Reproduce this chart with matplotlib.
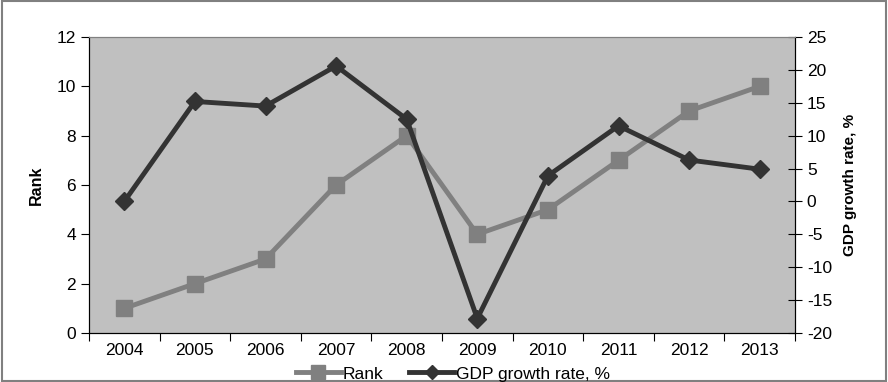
import matplotlib.pyplot as plt
from matplotlib.lines import Line2D
from matplotlib.patches import Rectangle

plt.rcParams['font.family'] = ['Liberation Sans', 'DejaVu Sans']
plt.rcParams['axes.unicode_minus'] = False

years = ['2004', '2005', '2006', '2007', '2008', '2009', '2010', '2011', '2012', '2013']
rank = [1, 2, 3, 6, 8, 4, 5, 7, 9, 10]
gdp = [0.0, 15.2, 14.5, 20.6, 12.5, -17.8, 3.9, 11.5, 6.3, 4.9]

x = list(range(len(years)))

fig = plt.figure(figsize=(8.88, 3.82), dpi=100)
ax = fig.add_axes([89 / 888, 1 - 333 / 382, (795 - 89) / 888, (333 - 37) / 382])
ax.set_facecolor('#c0c0c0')

ax.plot(x, rank, color='#808080', lw=3.5, marker='s', ms=12, label='Rank', zorder=3)
ax.set_xlim(-0.5, 9.5)
ax.set_ylim(0, 12)
ax.set_yticks(range(0, 13, 2))
ax.set_xticks([i + 0.5 for i in range(-1, 10)], minor=False)
ax.set_xticklabels([])
ax.set_xticks(x, minor=True)
ax.set_xticklabels(years, minor=True)
ax.tick_params(axis='x', which='major', direction='out', length=6, color='black')
ax.tick_params(axis='x', which='minor', length=0, pad=7, labelsize=12.5)
ax.tick_params(axis='y', direction='out', length=6, labelsize=12.5)
ax.set_ylabel('Rank', fontweight='bold', fontsize=11.5, labelpad=9)

ax2 = ax.twinx()
ax2.plot(x, gdp, color='#333333', lw=3.5, marker='D', ms=9, label='GDP growth rate, %', zorder=4)
ax2.set_ylim(-20, 25)
ax2.set_yticks(range(-20, 26, 5))
ax2.tick_params(axis='y', direction='inout', length=10, labelsize=12.5)
ax2.set_ylabel('GDP growth rate, %', fontweight='bold', fontsize=11, labelpad=8)

for a in (ax, ax2):
    for s in a.spines.values():
        s.set_color('#808080')
    a.spines['bottom'].set_color('black')
    a.spines['left'].set_color('black')
    a.spines['right'].set_color('black')

handles = [
    Line2D([], [], color='#808080', lw=3.5, marker='s', ms=10),
    Line2D([], [], color='#333333', lw=3.5, marker='D', ms=7),
]
fig.legend(handles, ['Rank', 'GDP growth rate, %'], loc='center', bbox_to_anchor=(0.51, 1 - 374 / 382),
           ncol=2, frameon=False, fontsize=12.5, handlelength=2.6, handletextpad=0.1,
           columnspacing=1.5, borderaxespad=0)

fig.patches.append(Rectangle((0.002, 0.003), 0.996, 0.994, transform=fig.transFigure,
                             fill=False, edgecolor='#808080', lw=1.5))

fig.savefig('out.png', dpi=100)
